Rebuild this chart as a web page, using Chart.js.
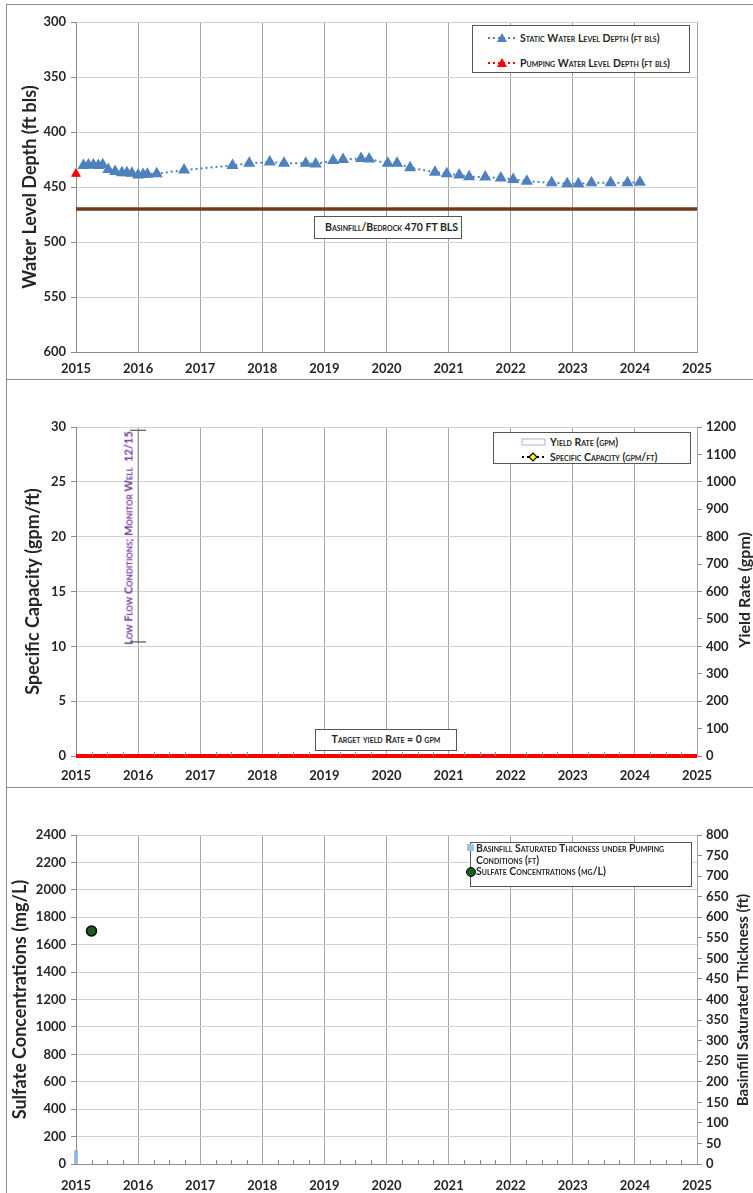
<!DOCTYPE html>
<html>
<head>
<meta charset="utf-8">
<script src="https://cdn.jsdelivr.net/npm/chart.js@4.4.1/dist/chart.umd.min.js"></script>
<style>
body { margin: 0; background: #fff; width: 753px; height: 1193px; position: relative; overflow: hidden; font-family: Lato, "Open Sans", sans-serif; }
canvas { position: absolute; left: 0; }
.hline { position: absolute; left: 6px; width: 747px; height: 0; border-top: 1px solid #8c8c8c; }
.frame { position: absolute; left: 6px; top: 4px; width: 760px; height: 1195px; border: 1px solid #8c8c8c; border-bottom: none; border-right: none; box-sizing: border-box; }
.box { position: absolute; background: #fff; border: 1.5px solid #555; box-sizing: border-box; font-variant: small-caps; font-weight: bold; font-size: 10.5px; color: #262626; white-space: nowrap; }
.row { position: absolute; display: flex; align-items: center; }
.row svg { margin-right: 3px; }
.ttl { position: absolute; font-weight: bold; color: #262626; white-space: nowrap; transform: translate(-50%, -50%) rotate(-90deg); }
</style>
</head>
<body>
<div class="frame"></div>
<div class="hline" style="top:379px"></div>
<div class="hline" style="top:787px"></div>

<canvas id="chart-levels" width="753" height="380" style="top:0"></canvas>
<canvas id="chart-yield" width="753" height="410" style="top:380px"></canvas>
<canvas id="chart-sulfate" width="753" height="403" style="top:790px"></canvas>

<div class="box" style="left:472px;top:25px;width:218px;height:48px">
  <div class="row" style="left:14px;top:4px;height:16px">
    <svg width="30" height="12"><line x1="1" y1="6" x2="29" y2="6" stroke="#4f81bd" stroke-width="2" stroke-dasharray="2,3"/><polygon points="15,1 20,10 10,10" fill="#4f81bd"/></svg>
    <span>Static Water Level Depth (ft bls)</span>
  </div>
  <div class="row" style="left:14px;top:29px;height:16px">
    <svg width="30" height="12"><line x1="1" y1="6" x2="29" y2="6" stroke="#ff0000" stroke-width="2" stroke-dasharray="2,3"/><polygon points="15,1 20,10 10,10" fill="#ff0000"/></svg>
    <span>Pumping Water Level Depth (ft bls)</span>
  </div>
</div>
<div class="box" style="left:314px;top:216px;width:148px;height:23px;line-height:20px;padding-left:10px">Basinfill/Bedrock 470 FT BLS</div>

<div class="box" style="left:493px;top:432px;width:198px;height:32px">
  <div class="row" style="left:27px;top:1px;height:15px">
    <svg width="26" height="10"><rect x="1" y="2" width="23" height="6" fill="#fff" stroke="#b4aed8" stroke-width="1"/></svg>
    <span>Yield Rate (gpm)</span>
  </div>
  <div class="row" style="left:27px;top:16px;height:15px">
    <svg width="26" height="10"><line x1="1" y1="5" x2="25" y2="5" stroke="#000" stroke-width="2" stroke-dasharray="2,3"/><polygon points="12,1 16,5 12,9 8,5" fill="#ffff00" stroke="#000" stroke-width="1.2"/></svg>
    <span>Specific Capacity (gpm/ft)</span>
  </div>
</div>
<div class="box" style="left:315px;top:729px;width:142px;height:22px;line-height:19px;text-align:center">Target yield Rate = 0 gpm</div>
<div class="ttl" style="left:128px;top:538px;font-size:11px;color:#7030a0;font-variant:small-caps">Low Flow Conditions; Monitor Well&nbsp;&nbsp;12/15</div>

<div class="box" style="left:470px;top:842px;width:222px;height:45px;line-height:11.5px">
  <div style="position:absolute;left:-4px;top:1px;width:7px;height:7px;background:#9dc3e6"></div>
  <div style="position:absolute;left:5px;top:0px;">Basinfill Saturated Thickness under Pumping<br>Conditions (ft)</div>
  <div style="position:absolute;left:-5px;top:24px;width:8px;height:8px;border-radius:50%;background:#1e5c1e;border:1px solid #000"></div>
  <div style="position:absolute;left:5px;top:23px;">Sulfate Concentrations (mg/L)</div>
</div>

<div class="ttl" style="left:743px;top:590px;font-size:16px">Yield Rate (gpm)</div>
<div class="ttl" style="left:742px;top:1000px;font-size:15px">Basinfill Saturated Thickness (ft)</div>

<script>
// --- data ---
const years = [2015, 2016, 2017, 2018, 2019, 2020, 2021, 2022, 2023, 2024, 2025];

const staticDates = [2015.12, 2015.20, 2015.28, 2015.36, 2015.43, 2015.52, 2015.63, 2015.74, 2015.82, 2015.90,
  2016.00, 2016.08, 2016.15, 2016.30, 2016.74, 2017.52, 2017.79, 2018.12, 2018.35, 2018.70,
  2018.86, 2019.14, 2019.30, 2019.59, 2019.72, 2020.02, 2020.17, 2020.38, 2020.78, 2020.97,
  2021.17, 2021.33, 2021.59, 2021.84, 2022.04, 2022.26, 2022.66, 2022.91, 2023.09, 2023.30,
  2023.61, 2023.88, 2024.08];
const staticDepth = [430.4, 430.1, 430.1, 430.4, 429.7, 434.0, 435.8, 437.0, 437.0, 437.6,
  439.2, 438.6, 438.3, 437.9, 434.6, 430.4, 428.5, 427.3, 428.3, 428.3,
  429.2, 425.8, 424.9, 424.0, 424.6, 428.5, 428.5, 432.5, 436.5, 437.9,
  439.2, 440.7, 441.0, 441.9, 443.1, 444.7, 446.1, 447.0, 447.0, 446.1,
  446.1, 446.1, 445.6];
const pumpingDates = [2015.0];
const pumpingDepth = [438];
const bedrockDepth = 470;

const specificCapacity = [];
const yieldRate = [];
const targetYield = 0;
const lowFlowDate = 2016.0;
const lowFlowRange = [10.4, 29.7];

const thicknessDates = [2015.0];
const thickness = [33];
const sulfateDates = [2015.25];
const sulfate = [1700];

// --- shared bits ---
const tickFont = { family: 'Lato', size: 13, weight: 'bold' };
const ink = '#262626';
const pts = (xs, ys) => xs.map((x, i) => ({ x: x, y: ys[i] }));
const span = v => [{ x: years[0], y: v }, { x: years[years.length - 1], y: v }];

const fixSize = (w, h) => s => { if (w !== undefined) s.width = w; if (h !== undefined) s.height = h; };

const xScale = (height, pad) => ({
  type: 'linear', min: 2015, max: 2025, offset: false,
  afterFit: fixSize(undefined, height),
  afterBuildTicks: s => { s.ticks = years.map(v => ({ value: v })); },
  ticks: { font: tickFont, color: ink, padding: pad, callback: v => String(v), maxRotation: 0 },
  grid: { color: '#a6a6a6', drawTicks: false, offset: false },
  border: { color: '#8c8c8c' }
});

const leftScale = (min, max, step, title, titlePad, reverse) => ({
  position: 'left', min: min, max: max, reverse: !!reverse,
  afterFit: fixSize(76),
  ticks: { stepSize: step, font: tickFont, color: ink, padding: 5, callback: v => String(v) },
  grid: { color: '#d0d0d0', tickLength: 5, tickColor: '#8c8c8c' },
  border: { color: '#8c8c8c' },
  title: { display: true, text: title, color: ink, font: { family: 'Lato', size: 18, weight: 'bold' }, padding: { top: titlePad, bottom: 0 } }
});

const rightScale = (min, max, step) => ({
  position: 'right', min: min, max: max,
  afterFit: fixSize(56),
  ticks: { stepSize: step, font: tickFont, color: ink, padding: 4, callback: v => String(v) },
  grid: { drawOnChartArea: false, tickLength: 5, color: '#8c8c8c' },
  border: { display: false }
});

// small inside ticks between years on the x axis
const minorTicks = {
  id: 'minorTicks',
  afterDatasetsDraw(chart, args, opts) {
    if (!opts.show) return;
    const x = chart.scales.x, ctx = chart.ctx, b = chart.chartArea.bottom;
    ctx.save();
    ctx.strokeStyle = '#8c8c8c';
    ctx.lineWidth = 1;
    for (let i = 0; i < years.length - 1; i++) {
      [0.25, 0.5, 0.75].forEach(f => {
        const px = Math.round(x.getPixelForValue(years[i] + f)) + 0.5;
        ctx.beginPath(); ctx.moveTo(px, b); ctx.lineTo(px, b - 4); ctx.stroke();
      });
    }
    ctx.restore();
  }
};

const baseOptions = (pad) => ({
  responsive: false, animation: false,
  layout: { padding: pad },
  plugins: { legend: { display: false }, tooltip: { enabled: false } }
});

// --- chart 1: water levels ---
const opt1 = baseOptions({ top: 22, right: 56, left: 0, bottom: 0 });
opt1.scales = { x: xScale(28, 9), y: leftScale(300, 600, 50, 'Water Level Depth (ft bls)', 19, true) };
new Chart(document.getElementById('chart-levels'), {
  type: 'scatter',
  data: {
    datasets: [
      { data: span(bedrockDepth), showLine: true, borderColor: '#6e3b1c', borderWidth: 3.5, pointRadius: 0 },
      { data: pts(staticDates, staticDepth), showLine: true, borderColor: '#4f81bd', borderWidth: 2, borderDash: [2, 3],
        pointStyle: 'triangle', pointRadius: 5, pointBackgroundColor: '#4f81bd', pointBorderColor: '#4f81bd' },
      { data: pts(pumpingDates, pumpingDepth), showLine: false, pointStyle: 'triangle', pointRadius: 5,
        pointBackgroundColor: '#ff0000', pointBorderColor: '#ff0000', clip: false }
    ]
  },
  options: opt1
});

// --- chart 2: yield / specific capacity ---
const opt2 = baseOptions({ top: 47, right: 0, left: 0, bottom: 0 });
opt2.scales = { x: xScale(34, 12), y: leftScale(0, 30, 5, 'Specific Capacity (gpm/ft)', 22), y2: rightScale(0, 1200, 100) };
opt2.plugins.minorTicks = { show: true };
new Chart(document.getElementById('chart-yield'), {
  type: 'scatter',
  data: {
    datasets: [
      { data: pts([lowFlowDate, lowFlowDate], lowFlowRange), showLine: true, borderColor: '#8c8c8c', borderWidth: 1,
        pointStyle: 'line', pointRadius: 8, pointBorderColor: '#555', pointBorderWidth: 1.2, yAxisID: 'y' },
      { data: yieldRate, yAxisID: 'y2' },
      { data: specificCapacity, yAxisID: 'y', showLine: true, borderColor: '#000', borderDash: [2, 3] },
      { data: span(targetYield), showLine: true, borderColor: '#ff0000', borderWidth: 4, pointRadius: 0, yAxisID: 'y2', clip: false }
    ]
  },
  options: opt2,
  plugins: [minorTicks]
});

// --- chart 3: sulfate / saturated thickness ---
const opt3 = baseOptions({ top: 45, right: 0, left: 0, bottom: 0 });
opt3.scales = { x: xScale(29, 14), y: leftScale(0, 2400, 200, 'Sulfate Concentrations (mg/L)', 9), y2: rightScale(0, 800, 50) };
opt3.plugins.minorTicks = { show: true };
new Chart(document.getElementById('chart-sulfate'), {
  type: 'scatter',
  data: {
    datasets: [
      { type: 'bar', data: pts(thicknessDates, thickness), yAxisID: 'y2', backgroundColor: '#8db4e2', barThickness: 3, clip: false },
      { data: pts(sulfateDates, sulfate), yAxisID: 'y', pointRadius: 5, pointBackgroundColor: '#1e5c1e',
        pointBorderColor: '#000', pointBorderWidth: 1.5 }
    ]
  },
  options: opt3,
  plugins: [minorTicks]
});
</script>
</body>
</html>
